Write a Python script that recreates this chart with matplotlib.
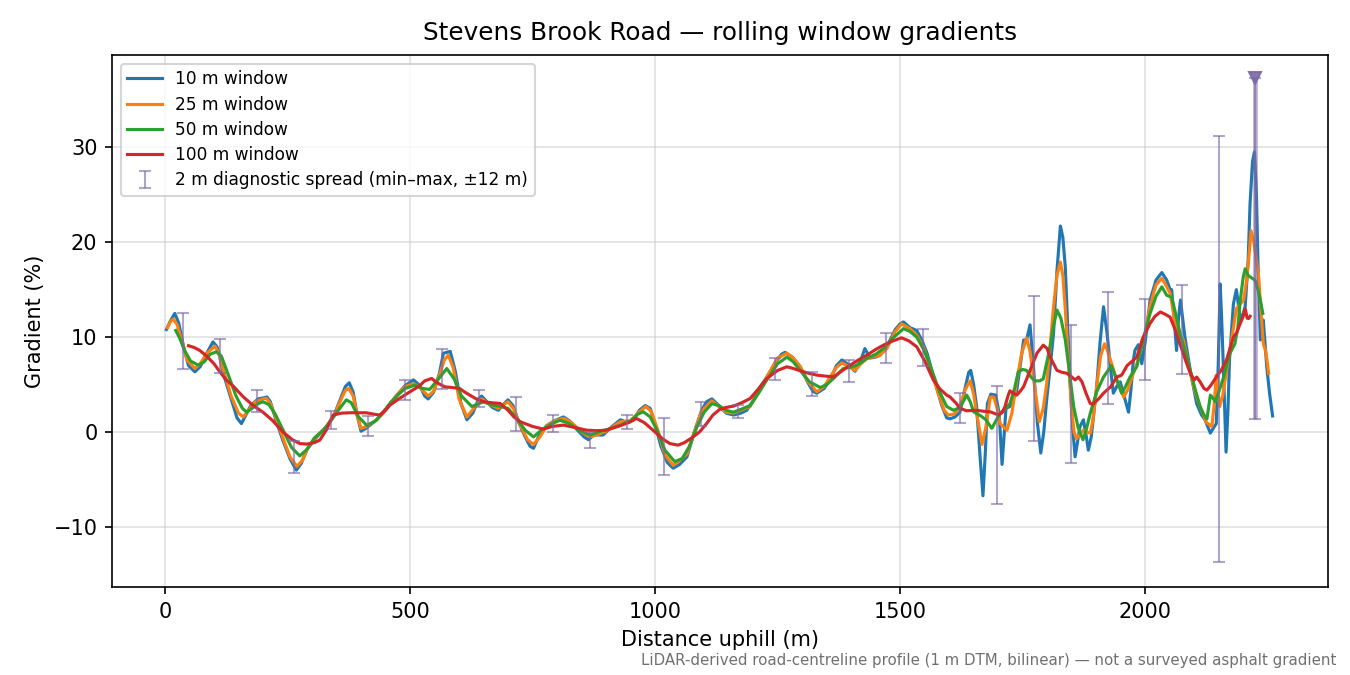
import matplotlib
matplotlib.use("Agg")
import matplotlib.pyplot as plt

# ---------------- data ----------------
w10_x = [3, 10, 20, 28, 38, 48, 61, 72, 85, 98, 106, 110, 120, 135, 147, 156, 165, 175, 190, 200, 208, 215, 225, 240, 255, 268, 278, 290, 310, 330, 345, 358, 368, 376, 384, 392, 400, 410, 432, 445, 459, 475, 490, 507, 520, 530, 537, 548, 560, 568, 582, 592, 604, 616, 628, 640, 646, 655, 668, 680, 692, 700, 710, 722, 735, 745, 752, 762, 779, 795, 813, 825, 840, 855, 864, 875, 894, 910, 929, 945, 956, 968, 980, 990, 1000, 1012, 1025, 1037, 1050, 1065, 1080, 1095, 1105, 1116, 1130, 1145, 1160, 1175, 1187, 1200, 1215, 1228, 1245, 1258, 1265, 1280, 1296, 1312, 1322, 1330, 1345, 1357, 1370, 1381, 1395, 1408, 1420, 1428, 1439, 1450, 1459, 1473, 1490, 1500, 1507, 1520, 1534, 1545, 1555, 1570, 1585, 1595, 1602, 1612, 1622, 1632, 1640, 1644, 1650, 1656, 1663, 1669, 1674, 1678, 1685, 1695, 1702, 1708, 1712, 1716, 1724, 1738, 1745, 1752, 1758, 1765, 1772, 1780, 1787, 1793, 1799, 1806, 1813, 1820, 1827, 1832, 1837, 1842, 1847, 1852, 1857, 1862, 1867, 1874, 1880, 1884, 1890, 1901, 1908, 1915, 1922, 1929, 1935, 1942, 1949, 1957, 1966, 1971, 1976, 1979, 1986, 1993, 2000, 2010, 2022, 2034, 2044, 2051, 2054, 2059, 2064, 2068, 2072, 2081, 2092, 2105, 2115, 2122, 2133, 2140, 2145, 2149, 2153, 2156, 2159, 2165, 2169, 2172, 2180, 2186, 2190, 2194, 2200, 2204, 2210, 2214, 2219, 2223, 2227, 2230, 2235, 2238, 2241, 2248, 2254, 2260]
w10_y = [10.8, 11.6, 12.5, 11.5, 9.0, 7.0, 6.35, 6.9, 8.3, 9.5, 9.0, 8.3, 6.0, 3.5, 1.5, 0.9, 1.8, 2.8, 3.5, 3.6, 3.7, 3.2, 1.5, -0.8, -2.8, -4.0, -3.3, -1.8, -0.5, 0.6, 1.8, 3.5, 4.8, 5.2, 4.2, 1.8, 0.1, 0.4, 1.3, 2.0, 3.0, 4.0, 4.9, 5.5, 4.9, 3.8, 3.5, 4.2, 6.2, 8.3, 8.5, 6.5, 3.0, 1.3, 2.0, 3.5, 3.8, 3.3, 2.6, 2.3, 3.0, 3.4, 2.8, 1.0, -0.5, -1.5, -1.7, -0.5, 0.7, 1.2, 1.6, 1.2, 0.3, -0.5, -0.8, -0.3, -0.3, 0.5, 1.3, 1.0, 1.3, 2.3, 2.8, 2.5, 0.8, -1.5, -3.2, -3.8, -3.4, -2.6, 0.0, 2.3, 3.2, 3.5, 2.8, 2.0, 1.8, 2.0, 2.3, 3.3, 4.8, 5.8, 7.3, 8.2, 8.4, 7.9, 6.9, 5.2, 4.3, 4.1, 4.6, 5.5, 7.0, 7.6, 7.1, 6.4, 7.6, 8.8, 7.8, 7.9, 8.1, 9.0, 10.8, 11.4, 11.6, 11.0, 10.7, 9.6, 8.3, 5.5, 2.8, 1.5, 1.4, 1.6, 2.1, 4.5, 6.3, 6.5, 5.0, 2.7, -2.5, -6.7, -2.0, 3.0, 4.0, 3.9, 2.0, -3.4, -0.5, 2.5, 2.7, 4.4, 7.0, 9.7, 9.7, 11.3, 6.9, 1.0, -2.2, 0.0, 3.4, 6.8, 10.4, 17.0, 21.7, 20.5, 17.4, 11.0, 5.1, 0.5, -2.6, -1.0, 0.6, 1.3, -0.5, -1.9, -0.5, 4.8, 9.5, 13.2, 10.5, 6.9, 4.1, 4.8, 5.3, 3.8, 2.1, 4.5, 7.6, 8.6, 9.2, 7.2, 9.5, 13.9, 16.0, 16.8, 16.0, 15.0, 15.0, 12.0, 8.6, 12.0, 13.9, 10.0, 6.5, 3.0, 1.8, 1.3, -0.1, 0.5, 0.9, 7.0, 15.6, 12.0, 7.6, -2.1, 2.5, 7.6, 13.5, 15.0, 13.5, 11.8, 12.5, 13.2, 18.0, 24.1, 28.5, 29.5, 25.0, 18.1, 9.7, 10.5, 11.8, 6.9, 4.0, 1.7]

w25_x = [5, 12, 17, 25, 35, 45, 61, 72, 85, 102, 110, 120, 135, 150, 160, 170, 185, 200, 207, 215, 228, 242, 255, 269, 280, 292, 310, 330, 345, 358, 368, 375, 384, 392, 400, 412, 432, 445, 459, 475, 490, 507, 520, 537, 548, 560, 570, 578, 588, 600, 616, 630, 646, 660, 680, 700, 712, 725, 740, 752, 765, 779, 795, 813, 830, 850, 867, 880, 900, 929, 950, 965, 981, 992, 1005, 1020, 1037, 1050, 1065, 1080, 1095, 1116, 1130, 1145, 1160, 1175, 1194, 1210, 1228, 1250, 1269, 1282, 1296, 1312, 1330, 1345, 1357, 1370, 1381, 1395, 1408, 1420, 1432, 1459, 1473, 1490, 1503, 1520, 1534, 1548, 1561, 1575, 1590, 1598, 1610, 1622, 1633, 1643, 1650, 1656, 1667, 1675, 1684, 1691, 1698, 1704, 1718, 1728, 1738, 1748, 1758, 1765, 1772, 1784, 1792, 1799, 1806, 1813, 1820, 1827, 1832, 1837, 1844, 1850, 1855, 1860, 1867, 1874, 1881, 1888, 1894, 1901, 1909, 1917, 1923, 1929, 1942, 1956, 1965, 1973, 1982, 1990, 2000, 2010, 2022, 2034, 2044, 2051, 2058, 2064, 2071, 2078, 2085, 2092, 2102, 2112, 2125, 2136, 2141, 2145, 2148, 2152, 2158, 2163, 2173, 2180, 2186, 2194, 2201, 2207, 2211, 2216, 2222, 2231, 2236, 2241, 2246, 2252]
w25_y = [11.0, 11.7, 11.9, 11.3, 9.5, 7.6, 6.7, 7.2, 8.3, 9.05, 8.3, 6.4, 3.8, 2.0, 1.6, 2.3, 3.2, 3.5, 3.55, 3.0, 1.3, -0.8, -2.6, -3.6, -3.0, -1.6, -0.4, 0.6, 1.8, 3.3, 4.4, 4.6, 3.8, 1.8, 0.4, 0.6, 1.3, 2.0, 3.0, 4.0, 4.8, 5.1, 4.7, 3.8, 4.3, 6.0, 7.6, 8.1, 6.8, 3.5, 1.6, 2.5, 3.5, 3.0, 2.5, 3.2, 2.4, 0.7, -0.8, -1.3, -0.5, 0.7, 1.2, 1.45, 1.0, 0.0, -0.5, -0.3, 0.1, 1.1, 1.2, 2.0, 2.7, 2.2, 0.3, -2.4, -3.5, -3.0, -2.3, 0.0, 2.2, 3.3, 2.7, 2.1, 2.0, 2.3, 2.7, 4.2, 5.8, 7.8, 8.3, 7.8, 6.9, 5.3, 4.25, 4.8, 5.8, 6.8, 7.3, 6.9, 6.5, 7.2, 7.75, 8.1, 8.8, 10.6, 11.4, 10.9, 10.2, 8.9, 6.9, 4.5, 2.3, 1.8, 1.9, 2.7, 4.5, 5.4, 4.0, 2.0, -1.3, 0.5, 3.7, 3.7, 2.5, 0.9, 0.2, 2.0, 5.4, 8.3, 9.9, 8.5, 5.8, 1.1, 2.5, 5.1, 9.0, 13.2, 16.5, 17.9, 16.5, 12.9, 7.0, 2.3, 0.0, -0.7, -0.2, 0.2, 0.0, -0.1, 1.5, 4.8, 8.0, 9.3, 8.6, 7.6, 5.5, 3.7, 4.5, 5.8, 7.0, 8.5, 10.5, 13.3, 15.5, 16.2, 15.3, 14.6, 12.5, 10.4, 10.0, 9.7, 8.0, 6.2, 4.2, 2.7, 1.0, 0.6, 3.0, 6.0, 4.5, 2.7, 3.8, 5.5, 8.6, 11.0, 13.0, 13.5, 13.9, 16.0, 18.1, 21.2, 19.9, 16.7, 13.0, 9.3, 8.5, 6.2]

w50_x = [22, 30, 40, 52, 68, 80, 92, 105, 115, 128, 145, 158, 167, 180, 190, 200, 212, 225, 241, 258, 275, 290, 305, 323, 340, 355, 370, 380, 395, 412, 430, 445, 459, 475, 490, 510, 525, 540, 555, 575, 590, 605, 626, 650, 665, 684, 700, 715, 735, 752, 770, 790, 806, 825, 845, 867, 890, 910, 929, 950, 965, 976, 990, 1005, 1020, 1040, 1055, 1070, 1085, 1100, 1116, 1130, 1145, 1160, 1175, 1194, 1210, 1228, 1250, 1269, 1282, 1296, 1315, 1337, 1350, 1364, 1384, 1405, 1420, 1432, 1450, 1466, 1485, 1507, 1520, 1534, 1548, 1561, 1580, 1595, 1609, 1622, 1636, 1643, 1650, 1665, 1675, 1687, 1704, 1715, 1724, 1733, 1741, 1750, 1758, 1767, 1775, 1785, 1792, 1806, 1813, 1820, 1828, 1837, 1845, 1854, 1863, 1873, 1880, 1888, 1901, 1915, 1931, 1942, 1952, 1960, 1969, 1983, 1990, 2000, 2010, 2022, 2034, 2044, 2054, 2062, 2071, 2080, 2092, 2102, 2112, 2120, 2126, 2130, 2133, 2138, 2143, 2150, 2160, 2173, 2183, 2189, 2194, 2200, 2204, 2210, 2214, 2224, 2230, 2235, 2240]
w50_y = [10.7, 9.9, 8.6, 7.5, 7.05, 7.4, 8.2, 8.46, 8.0, 6.2, 3.8, 2.5, 2.1, 2.6, 3.0, 3.2, 2.9, 1.9, 0.2, -1.6, -2.5, -1.8, -0.6, 0.2, 1.3, 2.4, 3.4, 3.1, 1.6, 0.7, 1.2, 2.1, 3.0, 3.9, 4.6, 4.95, 4.6, 4.5, 5.4, 6.7, 5.6, 3.8, 2.7, 3.2, 2.9, 2.7, 2.5, 1.6, 0.2, -0.5, 0.3, 0.9, 1.26, 0.9, 0.2, -0.3, 0.1, 0.4, 0.74, 1.2, 1.9, 2.14, 1.6, 0.1, -1.9, -3.1, -2.8, -1.5, 0.5, 2.1, 3.0, 2.8, 2.3, 2.1, 2.4, 2.8, 4.0, 5.5, 7.2, 7.9, 7.4, 6.5, 5.3, 4.7, 5.0, 5.65, 6.7, 6.9, 7.3, 7.75, 8.2, 8.8, 9.9, 10.9, 10.6, 10.0, 8.7, 7.05, 4.3, 2.7, 2.3, 2.6, 3.9, 3.2, 2.14, 1.7, 1.3, 0.4, 2.0, 2.5, 3.0, 4.5, 6.35, 6.6, 6.5, 5.8, 5.4, 5.4, 5.6, 9.0, 11.2, 12.85, 12.0, 9.7, 6.5, 2.7, 0.5, -0.8, 0.3, 2.0, 4.25, 5.8, 7.0, 5.5, 4.1, 4.8, 5.8, 6.9, 8.5, 10.5, 12.5, 14.3, 15.3, 14.4, 14.2, 12.5, 10.4, 8.8, 6.5, 4.5, 2.7, 1.8, 1.4, 2.8, 3.9, 3.6, 3.2, 4.2, 5.8, 8.3, 9.3, 11.0, 13.9, 16.3, 17.2, 16.5, 16.35, 16.0, 15.0, 13.9, 12.5]

w100_x = [48, 60, 71, 85, 100, 112, 125, 140, 160, 180, 200, 220, 241, 260, 275, 289, 305, 316, 330, 343, 360, 377, 395, 411, 425, 438, 450, 459, 480, 500, 520, 530, 544, 555, 571, 585, 601, 612, 622, 635, 650, 665, 684, 700, 712, 725, 750, 772, 790, 813, 835, 860, 880, 901, 930, 950, 962, 978, 996, 1015, 1030, 1047, 1060, 1075, 1091, 1105, 1118, 1132, 1145, 1160, 1177, 1194, 1210, 1228, 1250, 1269, 1282, 1296, 1313, 1330, 1347, 1364, 1380, 1398, 1415, 1432, 1450, 1466, 1485, 1503, 1518, 1534, 1550, 1568, 1582, 1595, 1602, 1615, 1622, 1636, 1656, 1670, 1684, 1701, 1709, 1714, 1720, 1724, 1731, 1738, 1745, 1752, 1765, 1779, 1792, 1800, 1806, 1820, 1830, 1840, 1848, 1857, 1864, 1871, 1880, 1888, 1894, 1905, 1915, 1930, 1942, 1952, 1963, 1983, 1995, 2010, 2020, 2031, 2041, 2051, 2061, 2071, 2082, 2092, 2100, 2105, 2112, 2120, 2126, 2135, 2145, 2155, 2166, 2173, 2180, 2187, 2194, 2200, 2204, 2208, 2211, 2214]
w100_y = [9.1, 8.9, 8.6, 8.0, 7.2, 6.35, 5.5, 4.8, 3.7, 2.8, 2.1, 1.2, 0.0, -0.8, -1.2, -1.26, -1.1, -0.84, 0.3, 1.8, 2.0, 2.04, 2.04, 2.04, 1.9, 1.8, 2.3, 2.84, 3.6, 4.25, 4.9, 5.4, 5.65, 5.2, 4.77, 4.7, 4.6, 4.2, 3.9, 3.5, 3.2, 3.1, 3.02, 2.3, 1.6, 1.09, 0.6, 0.32, 0.6, 0.74, 0.5, 0.21, 0.15, 0.21, 0.7, 1.1, 1.44, 1.0, 0.2, -0.7, -1.2, -1.37, -1.1, -0.6, 0.04, 0.9, 1.8, 2.4, 2.6, 2.74, 3.1, 3.54, 4.5, 5.65, 6.5, 6.88, 6.7, 6.46, 6.2, 6.0, 5.9, 5.82, 6.4, 7.05, 7.6, 8.1, 8.7, 9.16, 9.6, 9.93, 9.6, 8.98, 7.5, 5.47, 4.5, 3.9, 3.7, 3.0, 2.5, 2.25, 2.3, 2.2, 2.14, 1.8, 2.1, 2.7, 3.8, 4.35, 4.1, 3.9, 4.3, 4.8, 6.5, 8.3, 9.16, 8.8, 7.9, 6.5, 6.3, 6.2, 5.9, 5.5, 5.8, 5.3, 4.0, 3.0, 2.95, 3.5, 4.1, 4.8, 5.8, 6.0, 7.0, 7.9, 9.9, 11.45, 12.2, 12.65, 12.4, 12.1, 10.8, 9.3, 7.6, 6.2, 5.5, 5.8, 5.3, 4.6, 4.42, 5.0, 5.8, 6.5, 7.6, 8.8, 10.0, 10.5, 11.45, 12.2, 13.0, 12.0, 11.96, 12.2]

# 2 m diagnostic spread: bin centres and min / max of the 2 m gradient
spread_x = [37, 112, 188, 263, 339, 414, 490, 565, 641, 716,
            791, 867, 942, 1018, 1093, 1169, 1244, 1320, 1395, 1471,
            1546, 1622, 1697, 1773, 1848, 1924, 1999, 2075, 2150, 2225]
spread_lo = [6.67, 6.25, 2.14, -4.35, 0.35, -0.39, 3.37, 4.56, 2.67, 0.14,
             0.04, -1.72, 0.28, -4.53, 0.67, 1.51, 5.54, 3.82, 5.3, 7.23,
             6.95, 0.91, -7.6, -0.91, -3.23, 2.91, 5.54, 6.07, -13.7, 1.40]
spread_hi = [12.56, 9.79, 4.42, -0.91, 2.25, 1.68, 5.54, 8.74, 4.42, 3.72,
             1.79, 0.04, 1.79, 1.51, 3.19, 2.84, 7.82, 6.35, 7.58, 10.39,
             10.81, 4.1, 4.86, 14.3, 11.26, 14.77, 14.0, 15.47, 31.16, 37.3]
spread_clipped = [False] * 29 + [True]

series = [
    ("10 m window", w10_x, w10_y, "#1f77b4"),
    ("25 m window", w25_x, w25_y, "#ff7f0e"),
    ("50 m window", w50_x, w50_y, "#2ca02c"),
    ("100 m window", w100_x, w100_y, "#d62728"),
]

# ---------------- figure ----------------
fig = plt.figure(figsize=(9, 4.5), dpi=150)
ax = fig.add_axes([0.083, 0.1304, 0.9007, 0.7881])

for label, xs, ys, col in series:
    ax.plot(xs, ys, color=col, lw=1.5, label=label, zorder=2,
            solid_joinstyle="round")

mid = [(lo + hi) / 2 for lo, hi in zip(spread_lo, spread_hi)]
err_lo = [m - lo for m, lo in zip(mid, spread_lo)]
err_hi = [hi - m for m, hi in zip(mid, spread_hi)]
err_col = "#7b68a6"
ax.errorbar(spread_x, mid, yerr=[err_lo, err_hi], fmt="none", ecolor=err_col,
            alpha=0.6, elinewidth=1.0, capsize=3, capthick=1.0, zorder=3,
            label="2 m diagnostic spread (min\u2013max, \u00b112 m)")
for x, lo, hi, c in zip(spread_x, spread_lo, spread_hi, spread_clipped):
    if c:
        ax.vlines(x, lo, hi, color=err_col, alpha=0.55, lw=2.2, zorder=3)
        ax.plot([x], [hi], marker="v", color=err_col, ms=5.5, alpha=0.9, zorder=4)

ax.set_xlim(-108, 2373)
ax.set_ylim(-16.3, 39.7)
ax.set_yticks([-10, 0, 10, 20, 30])
ax.set_xticks([0, 500, 1000, 1500, 2000])
ax.grid(True, color="#cccccc", alpha=0.6, lw=0.8)
ax.set_axisbelow(True)
ax.tick_params(labelsize=10)
ax.set_xlabel("Distance uphill (m)", fontsize=10)
ax.set_ylabel("Gradient (%)", fontsize=10)
ax.set_title("Stevens Brook Road \u2014 rolling window gradients", fontsize=11.9, pad=7)
ax.legend(loc="upper left", fontsize=8.2, labelspacing=0.42)

fig.text(0.99, 0.022,
         "LiDAR-derived road-centreline profile (1 m DTM, bilinear) \u2014 not a surveyed asphalt gradient",
         ha="right", va="center", fontsize=7.2, color="#707070")

fig.savefig("out.png", dpi=150)
